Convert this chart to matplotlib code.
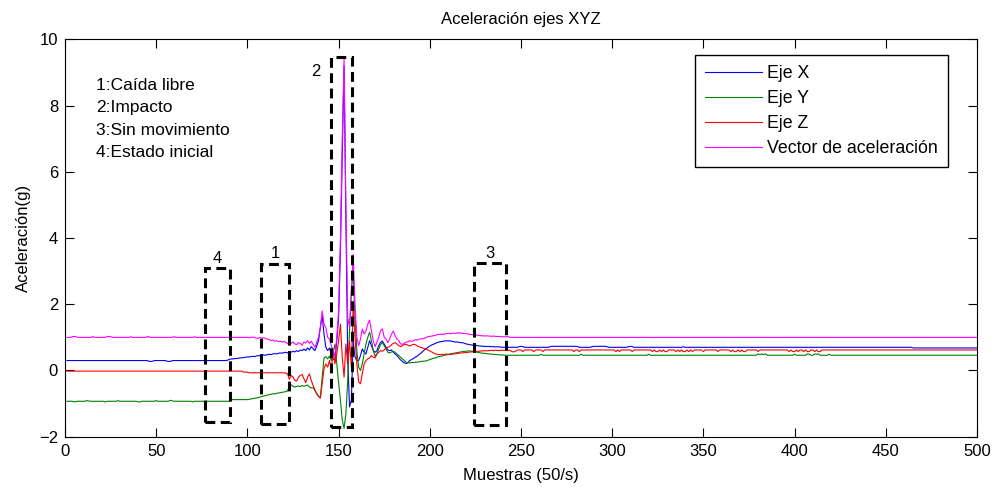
import numpy as np
import matplotlib
matplotlib.use("Agg")
import matplotlib.pyplot as plt
from matplotlib.patches import Rectangle

plt.rcParams['font.family'] = ['Liberation Sans', 'DejaVu Sans']

# ---------------------------------------------------------------- data
# samples 1..500 (50 samples per second)
samples = np.arange(1, 501)

# X axis acceleration (g)
eje_x = (
    [0.30] * 45 + [0.28, 0.27, 0.28] + [0.30] * 7 + [0.28, 0.27, 0.28] + [0.30] * 30
    + [0.31, 0.33, 0.35, 0.35, 0.36, 0.36, 0.37, 0.38, 0.38, 0.39, 0.40, 0.41, 0.41, 0.42, 0.43, 0.42,
       0.44, 0.45, 0.44, 0.46, 0.47, 0.46, 0.48, 0.49, 0.48, 0.50, 0.51, 0.50, 0.52, 0.53, 0.52, 0.54]
    + [0.55, 0.53, 0.56, 0.55, 0.58, 0.56, 0.60, 0.57, 0.62, 0.60, 0.65, 0.60, 0.68, 0.62, 0.72, 0.66,
       0.60, 0.74, 0.90, 1.30]
    + [1.65, 1.10, 0.70, 0.60, 0.68, 0.50, 0.35, 0.30, 0.90, 1.60, 3.60, 6.50, 9.20, 4.50, 0.40, -1.10,
       -0.90, 0.90, 0.40, 0.30]
    + [0.30, 0.45, 0.65, 0.55, 0.50, 0.70, 0.90, 0.75, 0.60, 0.55, 0.60, 0.75, 0.85, 0.89, 0.80, 0.70,
       0.62, 0.60, 0.62, 0.55, 0.50, 0.45, 0.38, 0.32, 0.27, 0.23, 0.21, 0.24, 0.30, 0.33, 0.36, 0.40,
       0.43, 0.48, 0.52, 0.57, 0.62, 0.66, 0.70, 0.74]
    + [0.77, 0.79, 0.82, 0.84, 0.86, 0.87, 0.88, 0.89, 0.90, 0.89, 0.90, 0.88, 0.87, 0.86, 0.86, 0.85,
       0.84, 0.84, 0.82, 0.80, 0.79, 0.78, 0.77, 0.76, 0.76, 0.75, 0.74, 0.74, 0.73, 0.73, 0.72, 0.73,
       0.72, 0.72, 0.72, 0.71, 0.72, 0.71, 0.71, 0.70]
    + [0.70] * 8 + [0.72, 0.73, 0.72] + [0.70] * 14 + [0.72] + [0.73] * 14 + [0.72] + [0.70] * 7
    + [0.72] + [0.73] * 7 + [0.72] + [0.70] * 11 + [0.72, 0.73, 0.72] + [0.70] * 27 + [0.72]
    + [0.70] * 125 + [0.68] * 36
)

# Y axis acceleration (g)
eje_y = (
    [-0.93] * 4 + [-0.95, -0.94] + [-0.93] * 5 + [-0.91, -0.92] + [-0.93] * 8 + [-0.95] + [-0.93] * 6
    + [-0.91] + [-0.93] * 10 + [-0.95, -0.95] + [-0.93] * 8 + [-0.91] + [-0.93] * 6 + [-0.92, -0.90, -0.92]
    + [-0.93] * 10 + [-0.95] + [-0.93] * 18
    + [-0.93] * 2 + [-0.88] * 10
    + [-0.87, -0.86, -0.85, -0.84, -0.83, -0.82, -0.80, -0.79, -0.77, -0.76, -0.74, -0.73, -0.72, -0.70,
       -0.71, -0.69, -0.68, -0.67, -0.66, -0.65]
    + [-0.64, -0.62, -0.45, -0.43, -0.48, -0.50, -0.48, -0.47, -0.49, -0.45, -0.48, -0.46, -0.44, -0.50,
       -0.53, -0.52, -0.60, -0.70, -0.78, -0.83]
    + [-0.20, 0.38, 0.42, 0.35, 0.43, 0.30, 0.55, 0.79, 0.20, -0.37, -0.90, -1.50, -1.75, -1.30, -0.30,
       1.20, 2.40, 2.95, 1.60, 0.60]
    + [0.10, 0.00, 0.20, 0.50, 0.80, 1.00, 1.16, 0.90, 0.60, 0.43, 0.50, 0.65, 0.78, 0.84, 0.75, 0.65,
       0.55, 0.53, 0.56, 0.58, 0.55, 0.50, 0.45, 0.40, 0.35, 0.30, 0.25, 0.23, 0.23, 0.24, 0.24, 0.25,
       0.25, 0.26, 0.27, 0.28, 0.28, 0.29, 0.31, 0.33]
    + [0.35, 0.37, 0.38, 0.40, 0.42, 0.43, 0.44, 0.46, 0.47, 0.48, 0.50, 0.51, 0.52, 0.53, 0.54, 0.55,
       0.56, 0.57, 0.58, 0.58, 0.59, 0.59, 0.58, 0.57, 0.56, 0.55, 0.54, 0.53, 0.52, 0.52, 0.51, 0.50,
       0.50, 0.49, 0.49, 0.48, 0.48, 0.47, 0.47, 0.47]
    + [0.46] * 20 + [0.49] + [0.46] * 21 + [0.49] + [0.46] * 36 + [0.49] + [0.46] * 59
    + [0.50, 0.48, 0.50, 0.48, 0.50] + [0.46] * 15 + [0.49] + [0.46] * 6
    + [0.50, 0.49, 0.46, 0.46, 0.50, 0.49, 0.50] + [0.46] * 5 + [0.49] + [0.46] * 81
)

# Z axis acceleration (g)
eje_z = (
    [-0.02] * 97 + [-0.05] * 3 + [-0.07] * 20
    + [-0.08, -0.10, -0.27, -0.15, -0.20, -0.30, -0.32, -0.20, -0.15, -0.12, -0.25, -0.37, -0.20, -0.10,
       -0.30, -0.45, -0.58, -0.70, -0.78, -0.83]
    + [-0.40, 0.05, 0.20, 0.10, 0.30, 0.00, 0.60, 0.20, 0.50, 0.90, 1.40, 0.40, -0.20, 0.80, 0.20, 0.90,
       0.10, 2.00, 1.00, 0.20]
    + [-0.35, -0.40, -0.10, 0.20, 0.30, 0.35, 0.38, 0.45, 0.40, 0.38, 0.50, 0.55, 0.60, 0.58, 0.62, 0.68,
       0.70, 0.72, 0.78, 0.82, 0.84, 0.80, 0.75, 0.72, 0.75, 0.78, 0.79, 0.76, 0.74, 0.77, 0.79, 0.78,
       0.75, 0.72, 0.70, 0.68, 0.66, 0.64, 0.62, 0.59]
    + [0.56, 0.53, 0.50, 0.49, 0.48, 0.48, 0.49, 0.48, 0.50, 0.49, 0.48, 0.49, 0.50, 0.50, 0.51, 0.52,
       0.53, 0.53, 0.54, 0.54, 0.55, 0.56, 0.56, 0.57, 0.57, 0.58, 0.58, 0.59, 0.59, 0.60, 0.59, 0.60,
       0.60, 0.61, 0.60, 0.61, 0.61, 0.60, 0.61, 0.61]
    + [0.61] * 4 + [0.57, 0.56, 0.58] + [0.62] * 3 + [0.57] + [0.62] * 5 + [0.57] + [0.62] * 4 + [0.57]
    + [0.62] * 16 + [0.57] + [0.62] * 2 + [0.57] + [0.62] * 19 + [0.57, 0.62, 0.57] + [0.62] * 6 + [0.57]
    + [0.62] * 10 + [0.57, 0.62, 0.57, 0.57, 0.62, 0.57, 0.62, 0.57, 0.57, 0.62] + [0.62] * 3
    + [0.57, 0.62, 0.57, 0.62, 0.57, 0.57, 0.62, 0.57, 0.62, 0.57] + [0.62] * 5 + [0.57] + [0.62] * 7
    + [0.57] + [0.62] * 6 + [0.57, 0.62, 0.57, 0.57, 0.62, 0.57, 0.62, 0.57, 0.57] + [0.62] * 6 + [0.57]
    + [0.62] * 16
    + [0.57, 0.62, 0.57, 0.57, 0.62, 0.57, 0.62, 0.62, 0.57, 0.62, 0.57, 0.57, 0.62, 0.62, 0.57, 0.62,
       0.57, 0.57, 0.62]
    + [0.62] * 85
)

# magnitude of the acceleration vector (g)
vector = (
    [1.00] * 3 + [1.02, 1.03, 1.02] + [1.00] * 8 + [1.02, 1.01] + [1.00] * 6 + [1.02, 1.03, 1.02]
    + [1.00] * 10 + [1.02] + [1.00] * 8 + [1.02, 1.02] + [1.00] * 12 + [1.01, 1.02] + [1.00] * 10
    + [1.02] + [1.00] * 17
    + [1.00] * 12 + [0.99, 1.00, 1.01, 0.99, 0.98]
    + [0.97, 1.00, 0.97, 0.99, 0.96, 0.95, 0.93, 0.90, 0.92, 0.88, 0.90, 0.87, 0.89, 0.86, 0.88]
    + [0.85, 0.82, 0.76, 0.82, 0.86, 0.80, 0.78, 0.84, 0.82, 0.76, 0.86, 0.83, 0.90, 0.82, 0.88, 0.80,
       0.70, 0.85, 1.00, 1.30]
    + [1.80, 1.40, 1.30, 1.00, 0.95, 0.75, 0.60, 0.45, 1.00, 1.80, 4.00, 7.00, 9.45, 5.00, 1.60, 1.30,
       2.40, 3.50, 2.00, 1.00]
    + [0.75, 0.95, 1.25, 1.10, 1.20, 1.40, 1.52, 1.20, 0.90, 0.72, 0.85, 1.00, 1.20, 1.26, 1.00, 0.95,
       0.84, 0.95, 1.10, 1.19, 1.05, 0.95, 0.90, 0.80, 0.79, 0.82, 0.85, 0.87, 0.90, 0.88, 0.90, 0.93,
       0.92, 0.94, 0.96, 0.95, 0.97, 1.00, 1.02, 1.03]
    + [1.04, 1.05, 1.06, 1.08, 1.09, 1.10, 1.09, 1.10, 1.11, 1.12, 1.11, 1.12, 1.13, 1.12, 1.13, 1.14,
       1.13, 1.12, 1.12, 1.11, 1.10, 1.09, 1.08, 1.08, 1.07, 1.07, 1.06, 1.05, 1.05, 1.04, 1.05, 1.04,
       1.04, 1.03, 1.04, 1.03, 1.03, 1.03, 1.02, 1.02]
    + [1.02] * 3 + [1.00] * 257
)

series_labels = ['Eje X', 'Eje Y', 'Eje Z', 'Vector de aceleración']
series_colors = ['#0000ff', '#008000', '#ff0000', '#ff00ff']

# event markers: label, sample range, acceleration range, label anchor
event_boxes = [
    ('4', 76.8, 90.5, -1.57, 3.11, 83.6, 3.25),
    ('1', 107.5, 122.8, -1.61, 3.21, 115.2, 3.40),
    ('2', 145.7, 157.2, -1.71, 9.48, 137.6, 8.88),
    ('3', 224.2, 241.8, -1.64, 3.24, 233.0, 3.40),
]
event_notes = ['1:Caída libre', '2:Impacto', '3:Sin movimiento', '4:Estado inicial']

# ---------------------------------------------------------------- figure
fig = plt.figure(figsize=(9.94, 4.87), dpi=100)
ax = fig.add_axes([65 / 994, 1 - 436.7 / 487, 912 / 994, 397.3 / 487])

for values, label, color in zip([eje_x, eje_y, eje_z, vector], series_labels, series_colors):
    ax.plot(samples, values, color=color, lw=0.8, label=label)

for label, x0, x1, y0, y1, lx, ly in event_boxes:
    ax.add_patch(Rectangle((x0, y0), x1 - x0, y1 - y0, fill=False, edgecolor='black',
                           lw=2.2, linestyle=(0, (3.2, 1.8)), joinstyle='miter', zorder=5))
    ax.text(lx, ly, label, ha='center', va='baseline', fontsize=12, zorder=6)

for k, note in enumerate(event_notes):
    ax.text(0.034, 0.8727 - k * 0.0562, note, transform=ax.transAxes,
            ha='left', va='baseline', fontsize=12.5)

ax.set_xlim(0, 500)
ax.set_ylim(-2, 10)
ax.set_xticks(np.arange(0, 501, 50))
ax.set_yticks(np.arange(-2, 11, 2))
ax.tick_params(direction='in', top=True, right=True, length=6.5, width=0.8,
               labelsize=12, pad=5)
for sp in ax.spines.values():
    sp.set_linewidth(0.8)

ax.set_title('Aceleración ejes XYZ', fontsize=12, pad=11)
ax.set_xlabel('Muestras (50/s)', fontsize=12, labelpad=7)
ax.set_ylabel('Aceleración(g)', fontsize=12, labelpad=6)

leg = ax.legend(loc='upper right', bbox_to_anchor=(0.968, 0.9607), borderaxespad=0,
                fontsize=12.8, frameon=True, fancybox=False, framealpha=1, edgecolor='black',
                handlelength=3.2, handletextpad=0.3, borderpad=0.55, labelspacing=0.45)
leg.get_frame().set_linewidth(1.0)

fig.savefig('out.png', dpi=100, facecolor='white')
